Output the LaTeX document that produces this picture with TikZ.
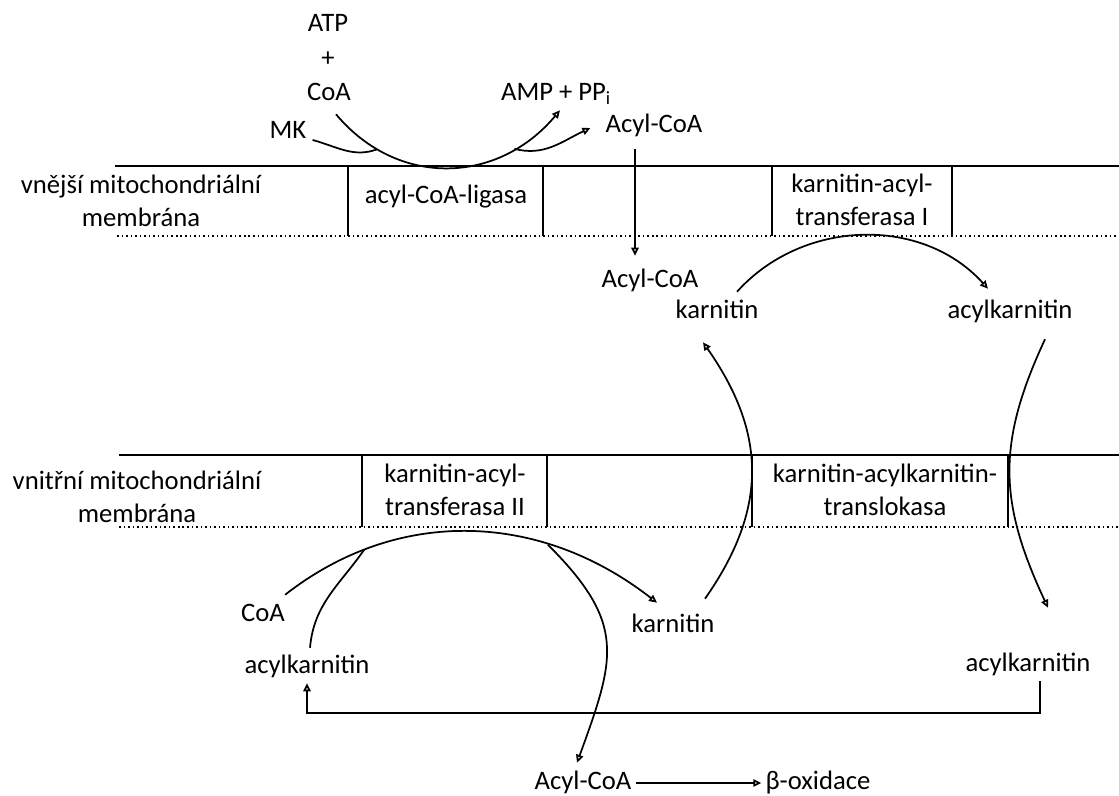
\documentclass[tikz,border=0pt]{standalone}
\usepackage{fontspec}
\setmainfont{Carlito}
\usepackage{tikz}
\usetikzlibrary{arrows.meta}

\tikzset{
	lbl/.style={font=\fontsize{20}{25}\selectfont, inner sep=3pt, text height=14pt, text depth=4pt},
	blk/.style={font=\fontsize{20}{25}\selectfont, inner sep=3pt, align=center},
	line/.style={line width=1.3pt},
	arr/.style={line width=1.3pt, -{Triangle[open,length=6pt,width=5.5pt]}},
	tecky/.style={line width=1.2pt, dash pattern=on 1.2pt off 2.2pt},
}

\begin{document}
\begin{tikzpicture}[x=0.75pt,y=0.75pt]
			\useasboundingbox (0,0) rectangle (1119,-795);
			% Vnější membrána
			\draw[line] (115,-166) -- (1119,-166);
			\draw[tecky] (117,-236) -- (1119,-236);
			\foreach \x in {348,543,772,952}
			\draw[line] (\x,-166) -- (\x,-236);
			% Vnitřní membrána
			\draw[line] (119,-455) -- (1119,-455);
			\draw[tecky] (119,-527) -- (1119,-527);
			\foreach \x in {362,547,752,1008}
			\draw[line] (\x,-455) -- (\x,-527);
			% Popisky
			\node[blk] (vnejsi) at (141,-201) {vnější mitochondriální\\membrána};
			\node[blk] (vnitrni) at (137,-497) {vnitřní mitochondriální\\membrána};
			\node[lbl] (ligasa) at (446,-197) {acyl-CoA-ligasa};
			\node[blk] (cat1) at (862,-200) {karnitin-acyl-\\transferasa I};
			\node[blk] (cat2) at (455,-490) {karnitin-acyl-\\transferasa II};
			\node[blk] (transl) at (885,-490) {karnitin-acylkarnitin-\\translokasa};
			% Látky
			\node[lbl] (atp) at (328,-25) {ATP};
			\node[lbl] (plus) at (328,-60) {+};
			\node[lbl] (coa1) at (329,-94) {CoA};
			\node[lbl] (mk) at (288,-132) {MK};
			\node[lbl] (amp) at (556,-94) {AMP + PP\textsubscript{i}};
			\node[lbl] (acyl1) at (654,-126) {Acyl-CoA};
			\node[lbl] (acyl2) at (650,-281) {Acyl-CoA};
			\node[lbl] (karn1) at (717,-312) {karnitin};
			\node[lbl] (akar1) at (1010,-312) {acylkarnitin};
			\node[lbl] (coa2) at (263,-615) {CoA};
			\node[lbl] (karn2) at (673,-626) {karnitin};
			\node[lbl] (akarL) at (307,-667) {acylkarnitin};
			\node[lbl] (akarR) at (1028,-665) {acylkarnitin};
			\node[lbl] (acyl3) at (583,-783) {Acyl-CoA};
			\node[lbl] (beta) at (818,-783) {β-oxidace};
			% Aktivace na vnější membráně
			\draw[arr] ([shift={(7,-4)}]coa1.south) to[out=-50,in=-130,looseness=1.1] coordinate[pos=0.2] (j1) coordinate[pos=0.78] (j2) ([shift={(4,0)}]amp.south);
			\draw[line] ([shift={(2,-8)}]mk.east) to[out=-15,in=200] (j1);
			\draw[arr] (j2) to[out=-15,in=205] ([shift={(-11,-2)}]acyl1.west);
			\draw[arr] ([shift={(-19,-7)}]acyl1.south) -- ([shift={(-15,9)}]acyl2.north);
			% Karnitinový cyklus
			\draw[arr] ([shift={(20,4)}]karn1.north) to[out=48,in=132] ([shift={(-22,7)}]akar1.north);
			\draw[arr] ([shift={(32,11)}]karn2.north) to[out=55,in=-55,looseness=1.1] ([shift={(-14,-14)}]karn1.south);
			\draw[arr] ([shift={(35,-11)}]akar1.south) to[out=-115,in=115,looseness=1.1] ([shift={(20,41)}]akarR.north);
			% Matrix
			\draw[arr] ([shift={(-4,4)}]coa2.north east) to[out=38,in=142] coordinate[pos=0.22] (j3) coordinate[pos=0.7] (j4) ([shift={(-16,7)}]karn2.north);
			\draw[line] ([shift={(3,3)}]akarL.north) to[out=85,in=-125] (j3);
			\draw[arr] (j4) to[out=-45,in=70,looseness=1.3] ([shift={(-6,4)}]acyl3.north);
			\draw[arr] ([shift={(12,0)}]akarR.south) -- ++(0,-32) -| (akarL.south);
			\draw[arr] (acyl3) -- (beta);
		\end{tikzpicture}
\end{document}
